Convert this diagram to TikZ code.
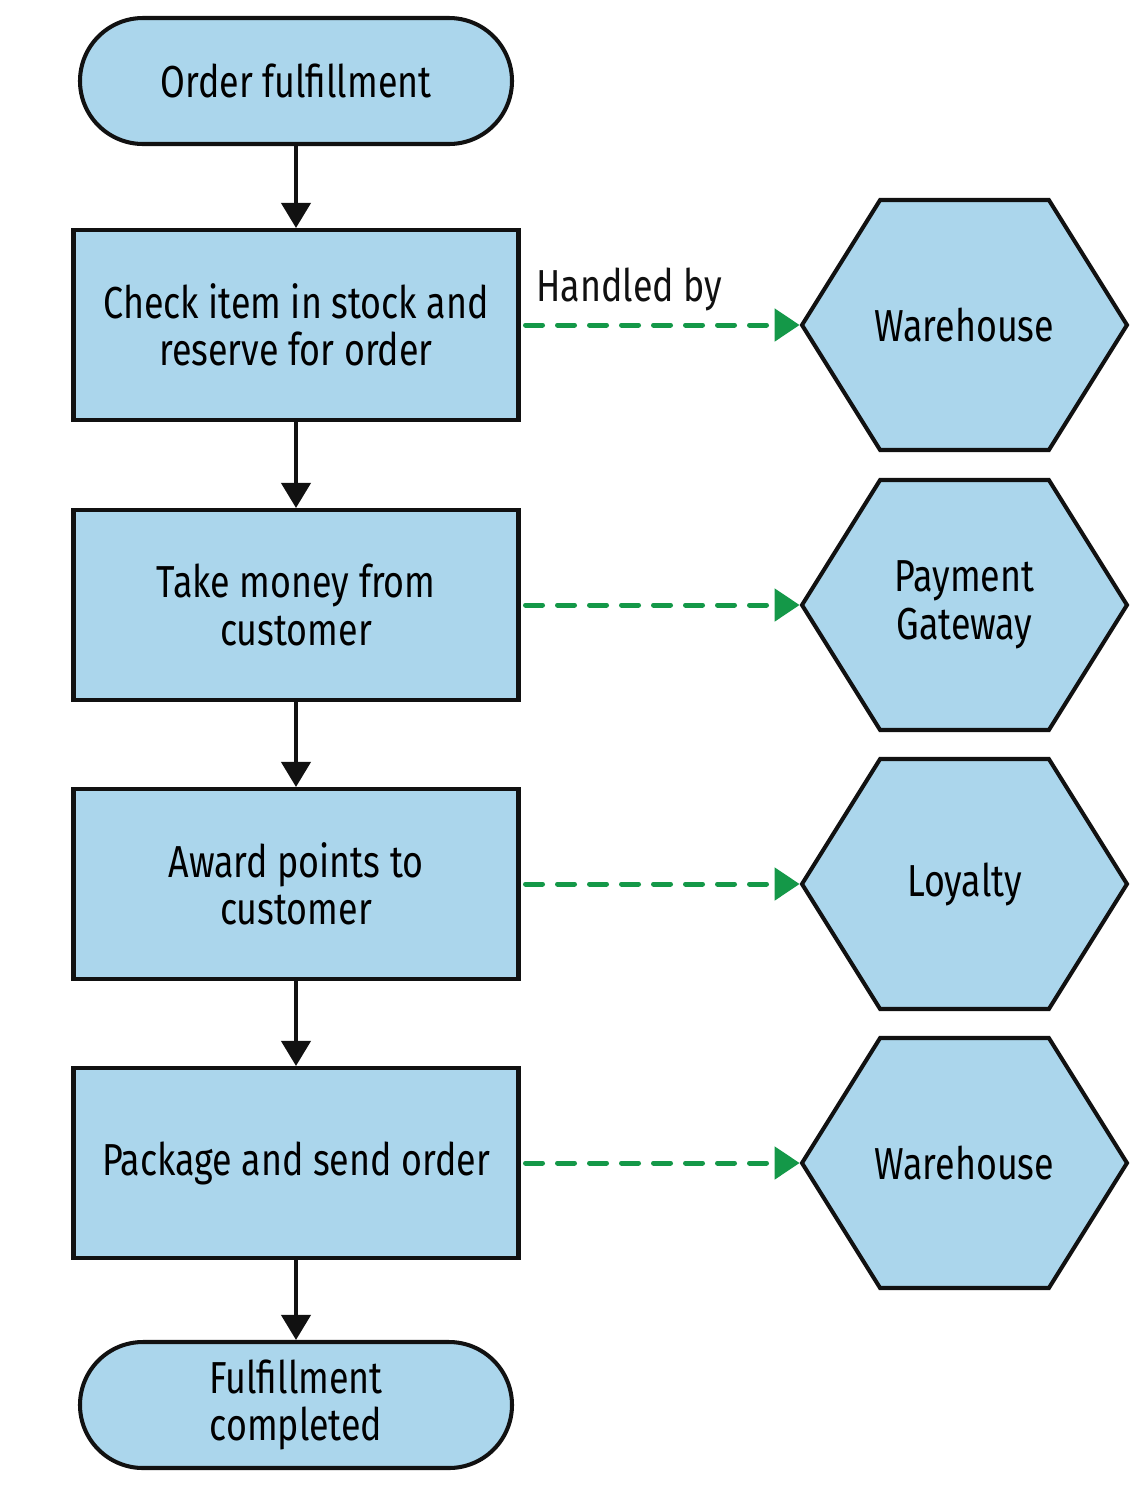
\documentclass[tikz,border=0pt]{standalone}
\usepackage{fontspec}
\setmainfont[FakeStretch=0.8]{Fira Sans}
\usetikzlibrary{arrows.meta,shapes.symbols}
\definecolor{boxblue}{RGB}{171,214,236}
\definecolor{edgeblack}{RGB}{17,17,17}
\definecolor{handgreen}{RGB}{20,152,72}
\begin{document}
\begin{tikzpicture}[
		font=\fontsize{25.5}{27}\selectfont,
		base/.style={draw=edgeblack, fill=boxblue, line width=2.3pt, align=center},
		terminal/.style={base, rounded corners=1.26cm, minimum width=8.64cm, minimum height=2.52cm},
		stepbox/.style={base, rectangle, minimum width=8.9cm, minimum height=3.8cm},
		service/.style={base, signal, signal to=west and east, signal pointer angle=116, minimum width=6.5cm, minimum height=5cm, inner ysep=0pt, inner xsep=-0.6cm},
		flow/.style={-{Triangle[length=0.5cm,width=0.58cm]}, line width=2.3pt, draw=edgeblack},
		handled/.style={-{Triangle[length=0.5cm,width=0.64cm]}, line width=0.1cm, draw=handgreen, dash pattern=on 0.34cm off 0.3cm, line cap=round}
	]
	\useasboundingbox (0,0) rectangle (22.88,-29.72);
	\node[terminal] (start) at (5.92,-1.62) {Order fulfillment};
	\node[stepbox] (check) at (5.92,-6.5) {Check item in stock and\\reserve for order};
	\node[stepbox] (money) at (5.92,-12.1) {Take money from\\customer};
	\node[stepbox] (points) at (5.92,-17.68) {Award points to\\customer};
	\node[stepbox] (send) at (5.92,-23.26) {Package and send order};
	\node[terminal] (done) at (5.92,-28.1) {Fulfillment\\completed};
	\node[service] (warehouse) at (19.29,-6.5) {Warehouse};
	\node[service] (payment) at (19.29,-12.1) {Payment\\Gateway};
	\node[service] (loyalty) at (19.29,-17.68) {Loyalty};
	\node[service] (shipping) at (19.29,-23.26) {Warehouse};
	\draw[flow] (start) -- (check);
	\draw[flow] (check) -- (money);
	\draw[flow] (money) -- (points);
	\draw[flow] (points) -- (send);
	\draw[flow] (send) -- (done);
	\draw[handled] ([xshift=0.1cm]check.east) -- node[above=0.12cm, xshift=-0.66cm, text=edgeblack] {Handled by} (warehouse.west);
	\draw[handled] ([xshift=0.1cm]money.east) -- (payment.west);
	\draw[handled] ([xshift=0.1cm]points.east) -- (loyalty.west);
	\draw[handled] ([xshift=0.1cm]send.east) -- (shipping.west);
\end{tikzpicture}
\end{document}
